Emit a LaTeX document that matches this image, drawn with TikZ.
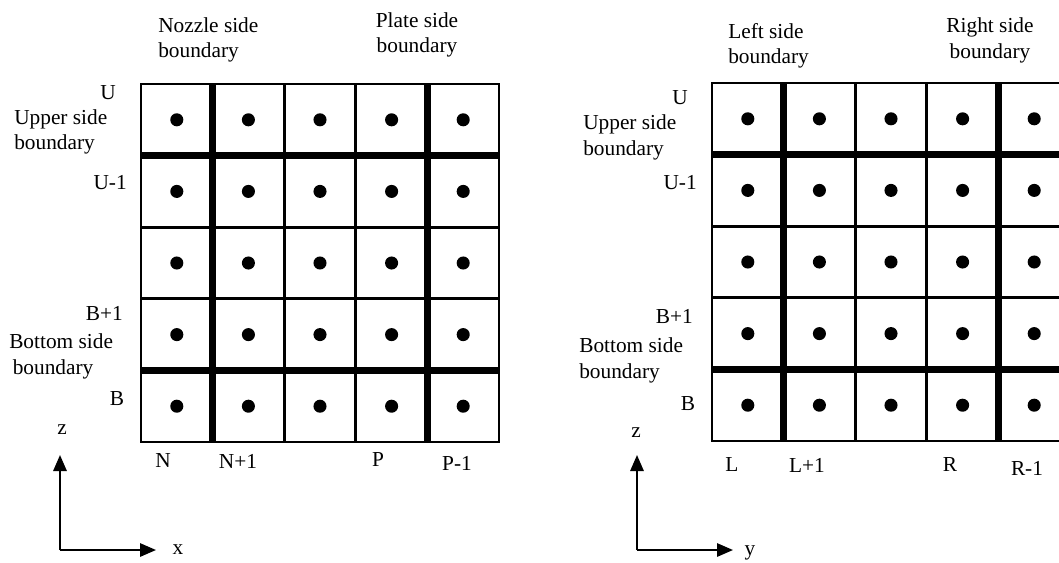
\documentclass[tikz,border=0pt]{standalone}
\usepackage{fontspec}
\setmainfont{Liberation Serif}
\usetikzlibrary{arrows.meta}

\begin{document}
\begin{tikzpicture}[
  x=0.75pt, y=-0.75pt,
  cell/.style ={line width=2pt},
  wall/.style ={line width=4.8pt},
  pnt/.style  ={fill=black},
  lbl/.style  ={inner sep=0pt, font=\fontsize{16}{19}\selectfont},
  bnd/.style  ={lbl, align=left, anchor=west},
  axis/.style ={-{Triangle[length=12pt,width=10pt]}, line width=1.5pt}
]
  \useasboundingbox (0,0) rectangle (1059,562);
  \clip (0,0) rectangle (1059,562);

  \foreach \gx/\gy in {141/84, 712/83}{
    \draw[cell] (\gx,\gy) rectangle (\gx+358,\gy+358);
    \foreach \i in {1,...,4}{
      \draw[cell] (\gx+\i*71.6,\gy) -- (\gx+\i*71.6,\gy+358);
      \draw[cell] (\gx,\gy+\i*71.6) -- (\gx+358,\gy+\i*71.6);
    }
    \foreach \i in {1,4}{
      \draw[wall] (\gx+\i*71.6,\gy) -- (\gx+\i*71.6,\gy+358);
      \draw[wall] (\gx,\gy+\i*71.6) -- (\gx+358,\gy+\i*71.6);
    }
    \foreach \i in {0,...,4}
      \foreach \j in {0,...,4}
        \fill[pnt] (\gx+\i*71.6+35.8,\gy+\j*71.6+35.8) circle[radius=4.9pt];
  }

  \node[bnd] (nozzle) at (158,40) {Nozzle side\\boundary};
  \node[lbl, align=center] (plate) at (417,35) {Plate side\\boundary};
  \node[lbl] (u1) at (108,93) {U};
  \node[bnd] (upper1) at (14,132) {Upper side\\boundary};
  \node[lbl, anchor=east] (um1) at (127,183) {U-1};
  \node[lbl, anchor=east] (bp1) at (123,313) {B+1};
  \node[bnd] (bottom1) at (9,356.5) {Bottom side\\\,boundary};
  \node[lbl] (b1) at (117,399) {B};
  \node[lbl] (z1) at (62,430) {z};
  \node[lbl] (n) at (163,461) {N};
  \node[lbl] (np1) at (238,461) {N+1};
  \node[lbl] (p) at (378,460) {P};
  \node[lbl] (pm1) at (457,463) {P-1};
  \node[lbl] (x) at (178,550) {x};
  \coordinate (o1) at (60,550);
  \coordinate (zt1) at (60,455);
  \coordinate (xt) at (156,550);
  \draw[axis] (o1) -- (zt1);
  \draw[axis] (o1) -- (xt);

  \node[bnd] (left) at (728,45.5) {Left side\\boundary};
  \node[lbl, align=center] (right) at (990,40.5) {Right side\\boundary};
  \node[lbl] (u2) at (680,98) {U};
  \node[bnd] (upper2) at (583,137.5) {Upper side\\boundary};
  \node[lbl, anchor=east] (um2) at (697,183) {U-1};
  \node[lbl, anchor=east] (bp2) at (693,316) {B+1};
  \node[bnd] (bottom2) at (579,360.5) {Bottom side\\boundary};
  \node[lbl] (b2) at (688,404) {B};
  \node[lbl] (z2) at (636,433) {z};
  \node[lbl] (l) at (732,465) {L};
  \node[lbl] (lp1) at (807,465) {L+1};
  \node[lbl] (r) at (950,465) {R};
  \node[lbl] (rm1) at (1027,468) {R-1};
  \node[lbl] (y) at (750,553) {y};
  \coordinate (o2) at (637,550);
  \coordinate (zt2) at (637,455);
  \coordinate (yt) at (733,550);
  \draw[axis] (o2) -- (zt2);
  \draw[axis] (o2) -- (yt);
\end{tikzpicture}
\end{document}
